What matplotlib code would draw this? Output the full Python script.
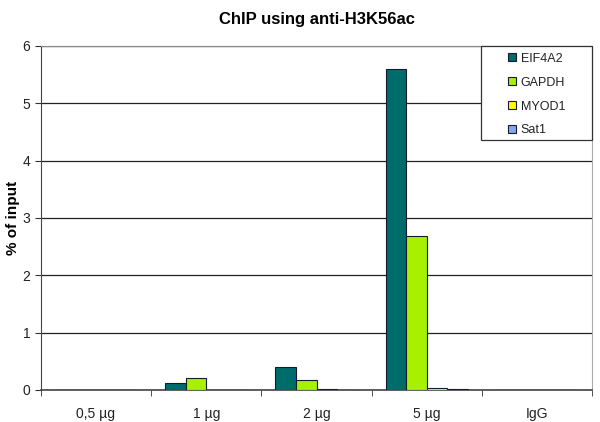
import matplotlib.pyplot as plt
from matplotlib.patches import Rectangle
import numpy as np

plt.rcParams['font.family'] = ['Liberation Sans', 'DejaVu Sans']

groups = ['0,5 µg', '1 µg', '2 µg', '5 µg', 'IgG']
series = ['EIF4A2', 'GAPDH', 'MYOD1', 'Sat1']
eif4a2 = [0.0, 0.12, 0.40, 5.60, 0.0]
gapdh = [0.0, 0.21, 0.17, 2.68, 0.0]
myod1 = [0.0, 0.0, 0.015, 0.04, 0.0]
sat1 = [0.0, 0.0, 0.0, 0.02, 0.0]
colors = ['#006B6B', '#A6F000', '#FFFF00', '#7FA8F0']

fig = plt.figure(figsize=(6, 4.22), dpi=100)
ax = fig.add_axes([0.068, 0.076, 0.919, 0.815])

x = np.arange(len(groups))
w = 0.186
for i, (vals, name) in enumerate(zip([eif4a2, gapdh, myod1, sat1], series)):
    ax.bar(x + (i - 1.5) * w, vals, w, color=colors[i], edgecolor='#1a1a2e',
           linewidth=0.8, label=name, zorder=3)

ax.set_xlim(-0.5, len(groups) - 0.5)
ax.set_ylim(0, 6)
ax.set_yticks(range(0, 7))
ax.set_xticks(np.arange(len(groups) + 1) - 0.5, minor=True)
ax.set_xticks(x)
ax.set_xticklabels(groups)
ax.tick_params(axis='x', which='major', length=0, pad=12, labelsize=10, colors='#222222')
ax.tick_params(axis='x', which='minor', length=4, direction='out', color='#333333')
ax.tick_params(axis='y', length=4, labelsize=10, colors='#222222', color='#333333')
ax.grid(axis='y', color='#222222', linewidth=0.9, zorder=0)

ax.spines['left'].set_color('#444444')
ax.spines['bottom'].set_color('#444444')
ax.spines['bottom'].set_linewidth(1.2)
ax.spines['top'].set_color('#888888')
ax.spines['right'].set_color('#aaaaaa')

ax.set_ylabel('% of input', fontsize=11, fontweight='bold', labelpad=2)
ax.set_title('ChIP using anti-H3K56ac', fontsize=12, fontweight='bold', pad=16)

# legend frame drawn separately so it can be wider than the entries
box = Rectangle((0.799, 0.727), 0.201, 0.273, transform=ax.transAxes,
                facecolor='white', edgecolor='#333333', linewidth=0.9,
                zorder=4, clip_on=False)
ax.add_patch(box)
leg = ax.legend(loc='upper left', bbox_to_anchor=(0.835, 1.0), fontsize=9,
                frameon=False, handlelength=0.6, handleheight=0.6,
                handletextpad=0.4, labelspacing=0.95, borderpad=0.55,
                borderaxespad=0)
for t in leg.get_texts():
    t.set_color('#222222')
leg.set_zorder(5)

plt.savefig('out.png', dpi=100)
